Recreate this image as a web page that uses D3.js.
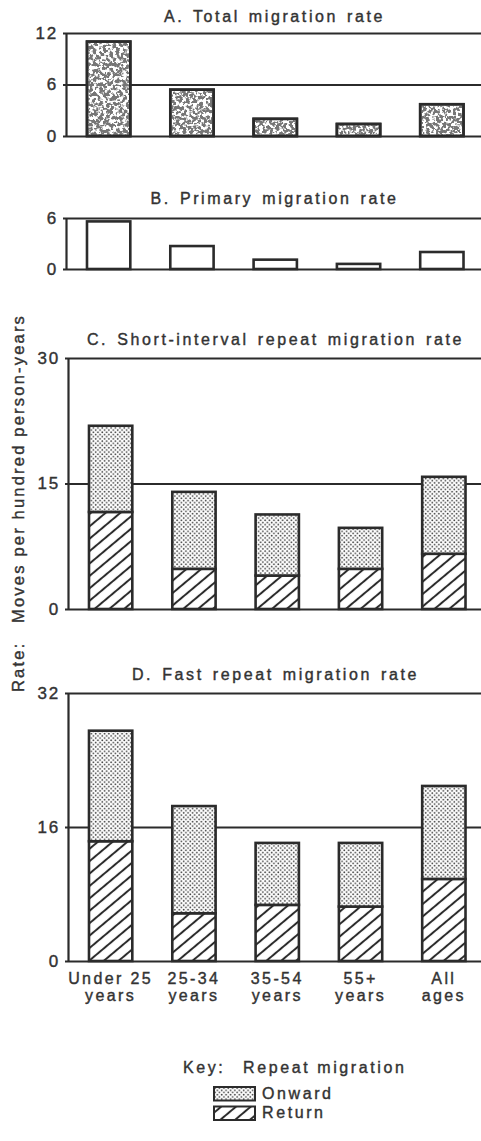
<!DOCTYPE html>
<html>
<head>
<meta charset="utf-8">
<script src="https://cdn.jsdelivr.net/npm/d3@7"></script>
<style>
  body { margin: 0; background: #fff; }
  text { font-family: "Liberation Sans", Arial, sans-serif; fill: #333; stroke: #333; stroke-width: 0.4px; }
</style>
</head>
<body>
<svg id="chart"></svg>
<script>
// age groups, two lines each for the x labels
const categories = ["Under 25", "25-34", "35-54", "55+", "All"];
const categoryLine2 = ["years", "years", "years", "years", "ages"];

// A. total migration rate, B. primary migration rate
const totalRate = [11.0, 5.4, 2.0, 1.4, 3.7];
const primaryRate = [5.6, 2.7, 1.1, 0.6, 2.0];

// C. short-interval repeat migration (return + onward)
const shortReturn = [11.6, 4.8, 4.0, 4.8, 6.6];
const shortOnward = [10.3, 9.2, 7.3, 4.9, 9.2];

// D. fast repeat migration (return + onward)
const fastReturn = [14.3, 5.7, 6.7, 6.5, 9.8];
const fastOnward = [13.2, 12.8, 7.4, 7.6, 11.1];

const ticksA = [0, 6, 12];
const ticksB = [0, 6];
const ticksC = [0, 15, 30];
const ticksD = [0, 16, 32];

const width = 481, height = 1141;
const ink = "#2b2b2b";
const ls = "2.6px"; // the scan's lettering is widely spaced

const svg = d3.select("#chart")
  .attr("width", width)
  .attr("height", height);

// ---- fills ----
const defs = svg.append("defs");

const dots = defs.append("pattern")
  .attr("id", "dots")
  .attr("patternUnits", "userSpaceOnUse")
  .attr("width", 4.4).attr("height", 4.4);
dots.append("rect").attr("width", 4.4).attr("height", 4.4).attr("fill", "#fff");
dots.append("circle").attr("cx", 1.1).attr("cy", 1.1).attr("r", 0.9).attr("fill", "#444");
dots.append("circle").attr("cx", 3.3).attr("cy", 3.3).attr("r", 0.9).attr("fill", "#444");

const hatch = defs.append("pattern")
  .attr("id", "hatch")
  .attr("patternUnits", "userSpaceOnUse")
  .attr("width", 9.5).attr("height", 9.5)
  .attr("patternTransform", "rotate(50)");
hatch.append("rect").attr("width", 9.5).attr("height", 9.5).attr("fill", "#fff");
hatch.append("line")
  .attr("x1", 4.75).attr("x2", 4.75).attr("y1", -1).attr("y2", 11)
  .attr("stroke", ink).attr("stroke-width", 2);

// coarse stipple of panel A, made from a fixed-seed noise
const grain = defs.append("filter").attr("id", "grain")
  .attr("x", 0).attr("y", 0).attr("width", 1).attr("height", 1);
grain.append("feTurbulence")
  .attr("type", "fractalNoise").attr("baseFrequency", 0.3)
  .attr("numOctaves", 2).attr("seed", 7).attr("result", "noise");
grain.append("feColorMatrix")
  .attr("in", "noise").attr("type", "matrix")
  .attr("values", "0 0 0 0 0.18  0 0 0 0 0.18  0 0 0 0 0.18  -10 0 0 0 5.6")
  .attr("result", "spots");
grain.append("feComposite")
  .attr("in", "spots").attr("in2", "SourceGraphic").attr("operator", "in");

const panels = [
  { title: "A. Total migration rate", ticks: ticksA, top: 33, zero: 136, left: 66, titleY: 22,
    series: [{ values: totalRate, fill: "grain" }] },
  { title: "B. Primary migration rate", ticks: ticksB, top: 218, zero: 269, left: 66, titleY: 204,
    series: [{ values: primaryRate, fill: "#fff" }] },
  { title: "C. Short-interval repeat migration rate", ticks: ticksC, top: 358, zero: 609, left: 68, titleY: 345,
    series: [{ values: shortReturn, fill: "url(#hatch)" }, { values: shortOnward, fill: "url(#dots)" }] },
  { title: "D. Fast repeat migration rate", ticks: ticksD, top: 693, zero: 961, left: 68, titleY: 680,
    series: [{ values: fastReturn, fill: "url(#hatch)" }, { values: fastOnward, fill: "url(#dots)" }] }
];

let lastX;

panels.forEach(p => {
  const y = d3.scaleLinear()
    .domain([0, d3.max(p.ticks)])
    .range([p.zero, p.top]);

  const step = 83.3;
  const x = d3.scaleBand()
    .domain(categories)
    .range([p.left + 1, p.left + 1 + step * categories.length])
    .paddingInner(0.48)
    .paddingOuter(0.24);
  lastX = x;

  const g = svg.append("g");

  // gridlines + tick labels from the axis
  const axis = g.append("g")
    .attr("transform", `translate(${p.left},0)`)
    .call(d3.axisLeft(y)
      .tickValues(p.ticks)
      .tickSize(-(width - p.left))
      .tickSizeOuter(0)
      .tickPadding(8)
      .tickFormat(d3.format("d")));
  axis.select(".domain").attr("stroke", ink).attr("stroke-width", 2.2);
  axis.selectAll(".tick line")
    .attr("x1", -3)
    .attr("stroke", ink).attr("stroke-width", 1.8);
  axis.selectAll(".tick text")
    .attr("fill", "#333")
    .style("font-family", "'Liberation Sans', Arial, sans-serif")
    .style("font-size", "17px")
    .style("letter-spacing", "1.8px");

  // bars, stacked from zero
  const stackRows = categories.map((c, i) => p.series.map(s => s.values[i]));
  p.series.forEach((s, si) => {
    const bars = g.append("g").selectAll("rect")
      .data(categories)
      .join("rect")
      .attr("x", c => x(c))
      .attr("width", x.bandwidth())
      .attr("y", (c, i) => y(d3.sum(stackRows[i].slice(0, si + 1))))
      .attr("height", (c, i) => y(d3.sum(stackRows[i].slice(0, si))) - y(d3.sum(stackRows[i].slice(0, si + 1))));

    if (s.fill === "grain") {
      bars.attr("fill", "#fff").attr("stroke", ink).attr("stroke-width", 2.6);
      g.append("g").selectAll("rect")
        .data(categories)
        .join("rect")
        .attr("x", c => x(c))
        .attr("width", x.bandwidth())
        .attr("y", (c, i) => y(s.values[i]))
        .attr("height", (c, i) => y(0) - y(s.values[i]))
        .attr("fill", "#000")
        .attr("filter", "url(#grain)");
      g.append("g").selectAll("rect")
        .data(categories)
        .join("rect")
        .attr("x", c => x(c))
        .attr("width", x.bandwidth())
        .attr("y", (c, i) => y(s.values[i]))
        .attr("height", (c, i) => y(0) - y(s.values[i]))
        .attr("fill", "none")
        .attr("stroke", ink).attr("stroke-width", 2.6);
    } else {
      bars.attr("fill", s.fill).attr("stroke", ink).attr("stroke-width", 2.6);
    }
  });

  // panel title, centred over the plot
  g.append("text")
    .attr("x", (p.left + width) / 2 + 1)
    .attr("y", p.titleY)
    .attr("text-anchor", "middle")
    .style("font-size", "16px")
    .style("letter-spacing", ls)
    .style("word-spacing", "2px")
    .text(p.title);
});

// x labels under panel D
const xl = svg.append("g");
xl.selectAll("text.l1")
  .data(categories)
  .join("text")
  .attr("class", "l1")
  .attr("x", c => lastX(c) + lastX.bandwidth() / 2)
  .attr("y", 984)
  .attr("text-anchor", "middle")
  .style("font-size", "16px")
  .style("letter-spacing", "2.4px")
  .text(c => c);
xl.selectAll("text.l2")
  .data(categoryLine2)
  .join("text")
  .attr("class", "l2")
  .attr("x", (c, i) => lastX(categories[i]) + lastX.bandwidth() / 2)
  .attr("y", 1001)
  .attr("text-anchor", "middle")
  .style("font-size", "16px")
  .style("letter-spacing", "2.4px")
  .text(c => c);

// y axis title, shared by all panels
svg.append("text")
  .attr("transform", "translate(24,692) rotate(-90)")
  .style("font-size", "16.5px")
  .style("letter-spacing", "2.2px")
  .text("Rate:");
svg.append("text")
  .attr("transform", "translate(24,623) rotate(-90)")
  .style("font-size", "16.5px")
  .style("letter-spacing", "2.2px")
  .text("Moves per hundred person-years");

// key
const key = svg.append("g");
key.append("text").attr("x", 183).attr("y", 1073)
  .style("font-size", "16px").style("letter-spacing", ls).text("Key:");
key.append("text").attr("x", 243).attr("y", 1073)
  .style("font-size", "16px").style("letter-spacing", ls).text("Repeat migration");

const keyItems = [
  { label: "Onward", fill: "url(#dots)" },
  { label: "Return", fill: "url(#hatch)" }
];
const keyRow = key.selectAll("g.item")
  .data(keyItems)
  .join("g")
  .attr("class", "item")
  .attr("transform", (d, i) => `translate(214,${1087 + i * 19.5})`);
keyRow.append("rect")
  .attr("width", 41).attr("height", 13.5)
  .attr("fill", d => d.fill)
  .attr("stroke", ink).attr("stroke-width", 2);
keyRow.append("text")
  .attr("x", 48).attr("y", 11.5)
  .style("font-size", "16px").style("letter-spacing", ls)
  .text(d => d.label);
</script>
</body>
</html>
